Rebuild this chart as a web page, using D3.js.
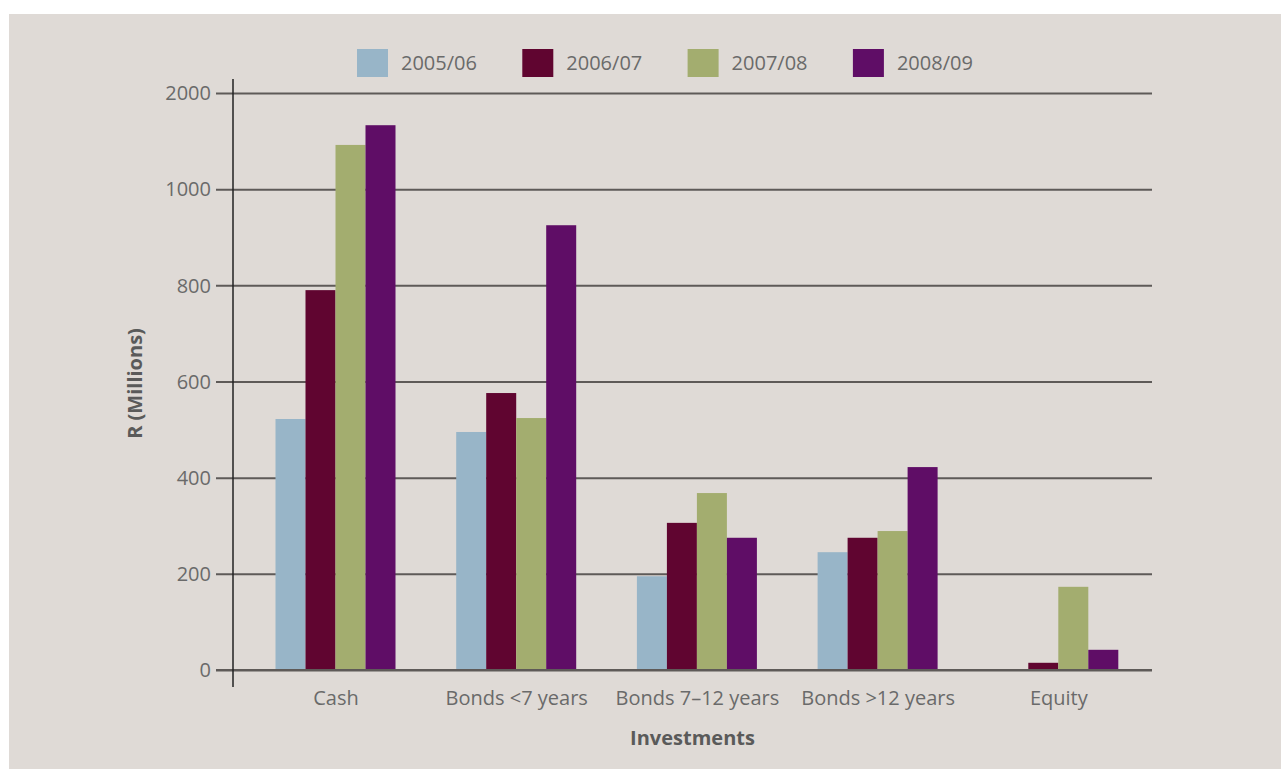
<!DOCTYPE html>
<html>
<head>
<meta charset="utf-8">
<script src="https://cdn.jsdelivr.net/npm/d3@7"></script>
<style>
  html, body { margin: 0; padding: 0; background: #ffffff; }
  svg { display: block; }
  text { font-family: "Open Sans", "Noto Sans", sans-serif; }
</style>
</head>
<body>
<svg id="chart" width="1281" height="769"></svg>
<script>
// Investment holdings by type, R millions
const categories = ["Cash", "Bonds <7 years", "Bonds 7\u201312 years", "Bonds >12 years", "Equity"];
const seriesNames = ["2005/06", "2006/07", "2007/08", "2008/09"];
const values2005 = [522, 495, 195, 245, 0];
const values2006 = [790, 576, 306, 275, 15];
const values2007 = [1092, 524, 368, 289, 173];
const values2008 = [1133, 925, 275, 422, 42];
const seriesValues = [values2005, values2006, values2007, values2008];
const seriesColors = ["#98b5c8", "#600530", "#a3ad6f", "#5f0d66"];
// Axis ticks; the top gridline carries the label "2000"
const tickValues = [0, 200, 400, 600, 800, 1000, 1200];
const tickLabels = ["0", "200", "400", "600", "800", "1000", "2000"];

const svg = d3.select("#chart");
const W = 1281, H = 769;

// panel background
svg.append("rect").attr("x", 9).attr("y", 14).attr("width", W - 9).attr("height", H - 14)
  .attr("fill", "#dfdad6");

const plotLeft = 233, plotRight = 1152, plotTop = 93, plotBottom = 670;

const y = d3.scaleLinear().domain([0, 1200]).range([plotBottom, plotTop]);
const x = d3.scalePoint().domain(categories).range([335.5, 1058.3]);
const barW = 30;
const xInner = d3.scaleBand().domain(seriesNames).range([-2 * barW, 2 * barW]).padding(0);

// horizontal gridlines with ticks extending left of the axis
const yAxis = d3.axisLeft(y).tickValues(tickValues)
  .tickFormat((d, i) => tickLabels[i])
  .tickSize(-(plotRight - plotLeft + 17)).tickPadding(6);

const gy = svg.append("g").attr("transform", `translate(${plotLeft - 17},0)`).call(yAxis);
gy.select(".domain").remove();
gy.selectAll(".tick line").attr("stroke", "#5e5a58").attr("stroke-width", 2);
gy.selectAll(".tick text").attr("fill", "#6a6a6a").attr("font-size", 20)
  .attr("x", -5).attr("dy", "0.34em");

// bars
const groups = svg.append("g").selectAll("g")
  .data(categories).join("g")
  .attr("transform", d => `translate(${x(d)},0)`);

groups.selectAll("rect")
  .data((c, ci) => seriesNames.map((s, si) => ({ s, si, v: seriesValues[si][ci] })))
  .join("rect")
  .attr("x", d => xInner(d.s))
  .attr("width", xInner.bandwidth())
  .attr("y", d => y(d.v))
  .attr("height", d => y(0) - y(d.v))
  .attr("fill", d => seriesColors[d.si]);

// baseline drawn over the bars
svg.append("line").attr("x1", plotLeft - 17).attr("x2", plotRight).attr("y1", y(0)).attr("y2", y(0))
  .attr("stroke", "#5e5a58").attr("stroke-width", 2);

// vertical axis line
svg.append("line").attr("x1", plotLeft).attr("x2", plotLeft)
  .attr("y1", plotTop - 14).attr("y2", plotBottom + 17)
  .attr("stroke", "#222").attr("stroke-width", 1.5);

// category labels
const xAxis = d3.axisBottom(x).tickSize(0).tickPadding(0);
const gx = svg.append("g").attr("transform", `translate(0,${plotBottom})`).call(xAxis);
gx.select(".domain").remove();
gx.selectAll(".tick text").attr("fill", "#6a6a6a").attr("font-size", 20)
  .attr("y", 35).attr("dy", 0);

// axis titles
svg.append("text").attr("x", (plotLeft + plotRight) / 2).attr("y", 745)
  .attr("text-anchor", "middle").attr("font-size", 20).attr("font-weight", "bold")
  .attr("fill", "#5a5a5a").text("Investments");

svg.append("text").attr("transform", `translate(142,${(plotTop + plotBottom) / 2 + 2}) rotate(-90)`)
  .attr("text-anchor", "middle").attr("font-size", 20).attr("font-weight", "bold")
  .attr("fill", "#5a5a5a").text("R (Millions)");

// legend
const legend = svg.append("g").attr("transform", "translate(357,49)");
const li = legend.selectAll("g").data(seriesNames).join("g")
  .attr("transform", (d, i) => `translate(${i * 165.3},0)`);
li.append("rect").attr("width", 31).attr("height", 28).attr("fill", (d, i) => seriesColors[i]);
li.append("text").attr("x", 44).attr("y", 14).attr("dy", "0.35em")
  .attr("font-size", 20).attr("fill", "#6a6a6a").text(d => d);
</script>
</body>
</html>
